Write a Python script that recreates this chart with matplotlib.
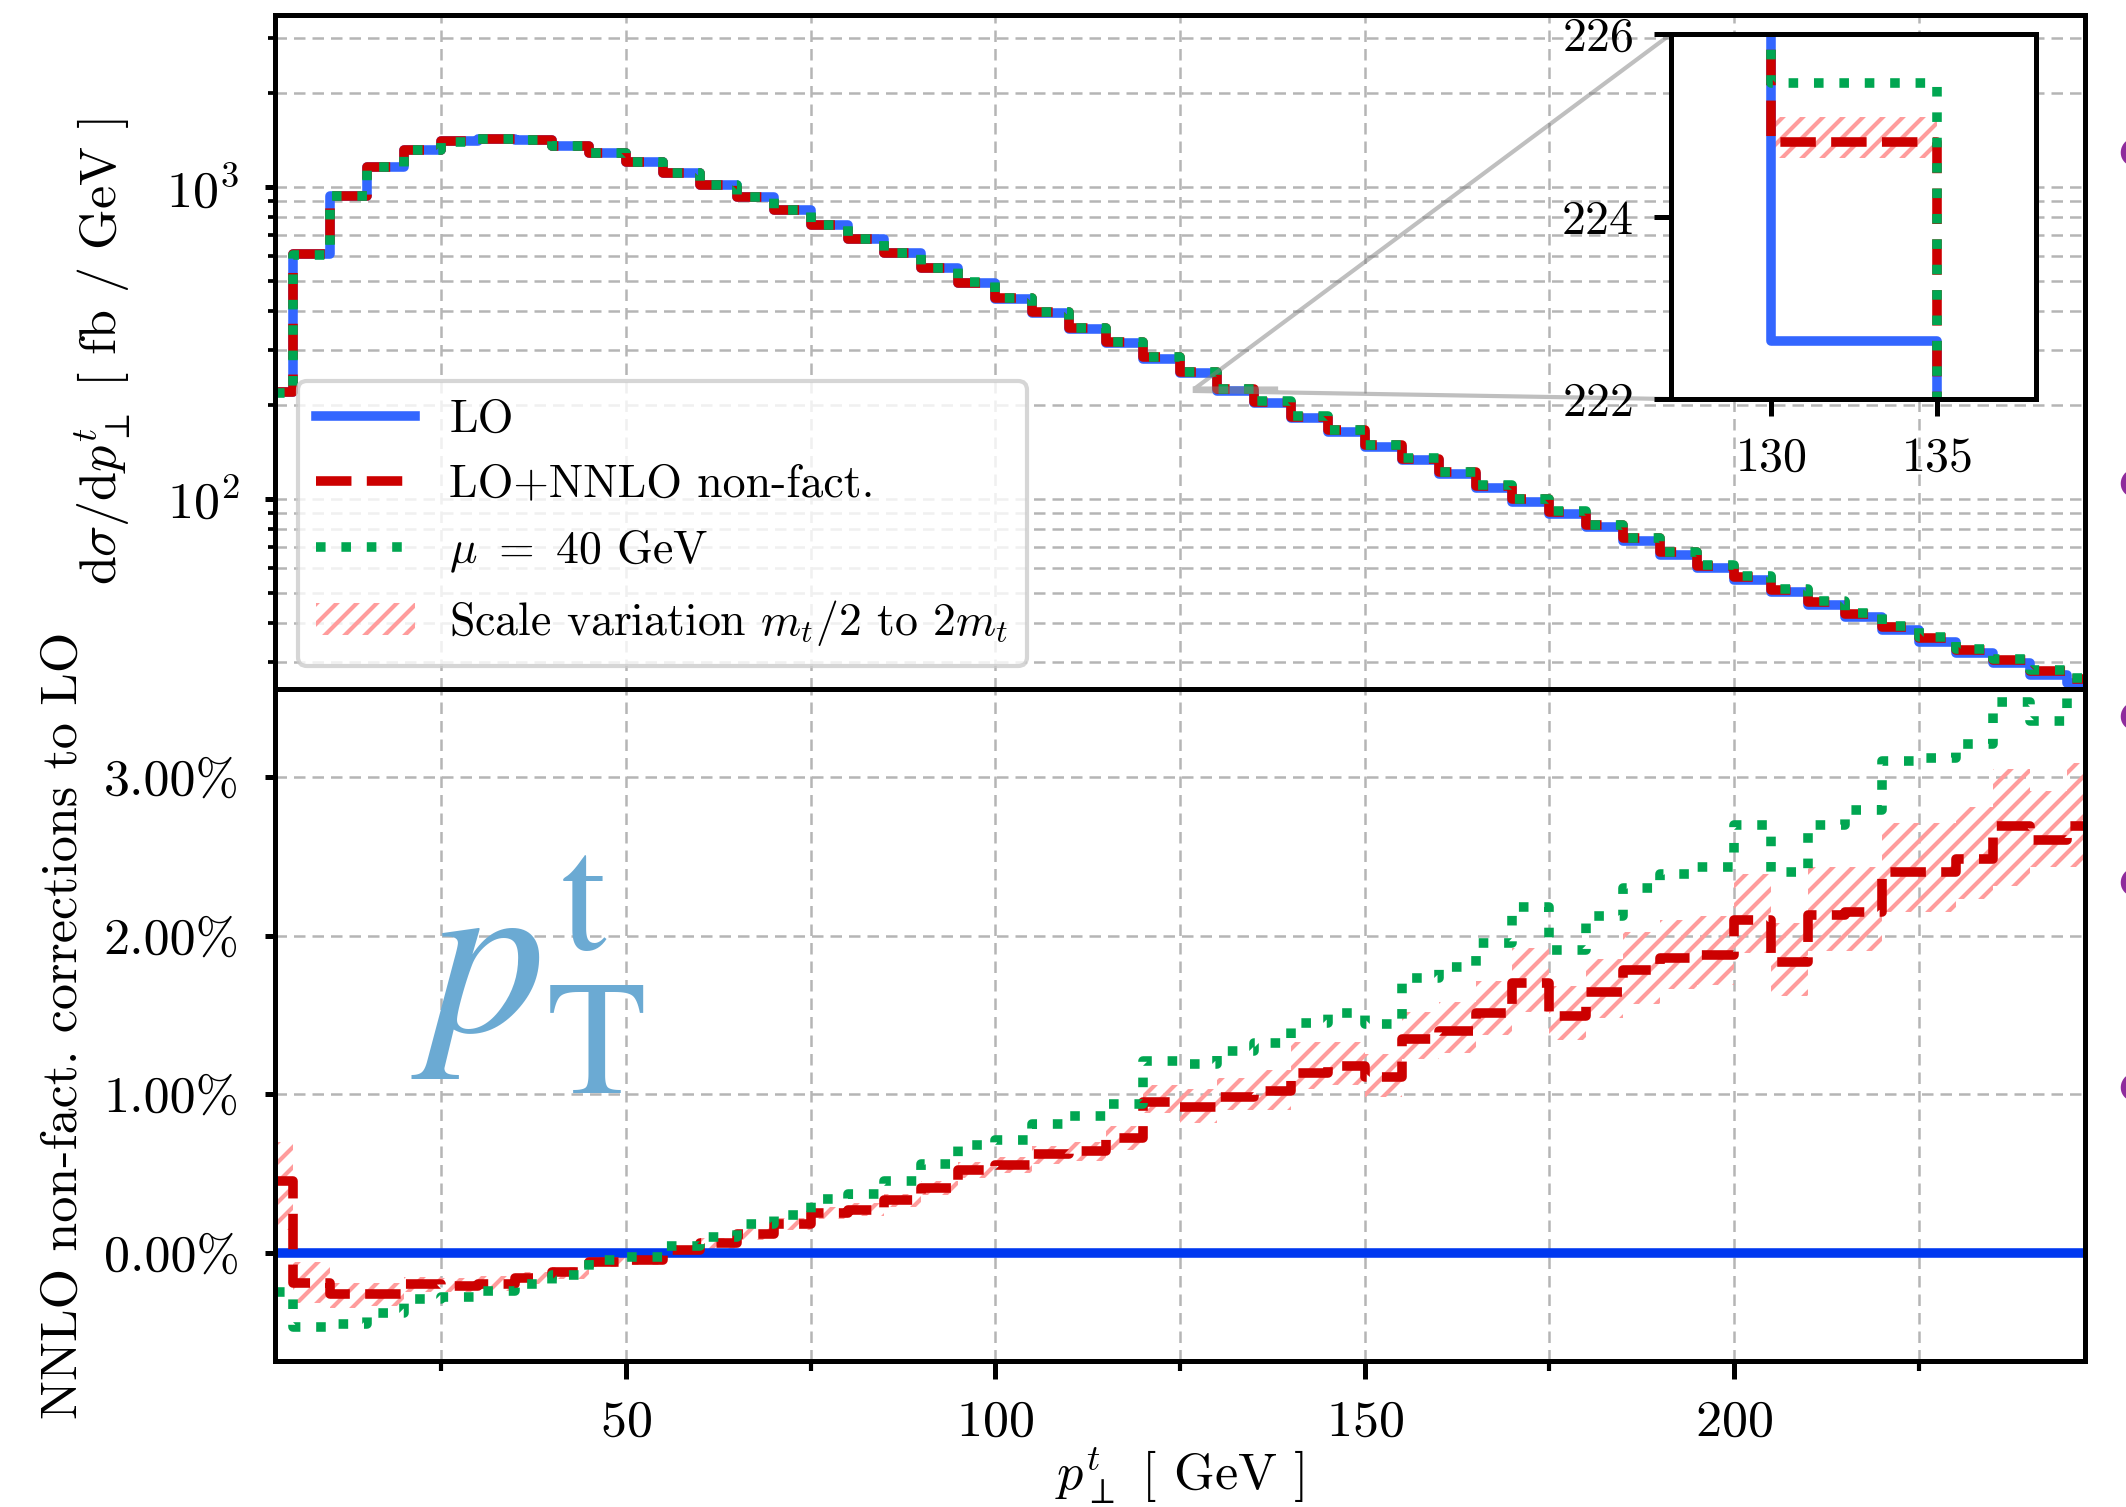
import numpy as np
import matplotlib
matplotlib.use('Agg')
import matplotlib.pyplot as plt
from matplotlib.ticker import PercentFormatter, MultipleLocator, FixedLocator

plt.rcParams['font.family'] = 'serif'
plt.rcParams['font.serif'] = ['cmr10']
plt.rcParams['mathtext.fontset'] = 'cm'
plt.rcParams['axes.formatter.use_mathtext'] = True
plt.rcParams['axes.unicode_minus'] = False
plt.rcParams['font.size'] = 12.5
plt.rcParams['axes.linewidth'] = 1.2
plt.rcParams['hatch.linewidth'] = 1.0

# bin centres, 5 GeV bins
pt_bins = np.arange(2.5, 250.0, 5.0)

# LO cross section [fb/GeV]
lo_xsec = [220, 610, 938, 1161, 1314, 1403, 1429, 1414, 1353, 1282,
           1200, 1111, 1015, 927, 844, 755, 680, 613, 549, 491,
           437, 394, 351, 316, 282, 253, 222.64, 203, 181.6, 164,
           147, 133, 120, 108.6, 98.0, 89.5, 81.1, 73.5, 66.2, 60.0,
           55.0, 50.2, 45.7, 41.8, 38.0, 34.9, 32.0, 29.7, 27.3, 25.7]

# relative corrections to LO [%]
nnlo_pct = [0.45, -0.19, -0.26, -0.26, -0.20, -0.21, -0.20, -0.16, -0.12, -0.06,
            -0.05, 0.015, 0.06, 0.12, 0.18, 0.25, 0.27, 0.33, 0.41, 0.52,
            0.55, 0.62, 0.64, 0.72, 0.95, 0.92, 0.98, 1.02, 1.13, 1.18,
            1.11, 1.35, 1.40, 1.51, 1.70, 1.49, 1.645, 1.78, 1.86, 1.88,
            2.10, 1.83, 2.13, 2.15, 2.40, 2.40, 2.48, 2.69, 2.60, 2.69]

mu40_pct = [-0.25, -0.47, -0.45, -0.38, -0.29, -0.28, -0.24, -0.20, -0.14, -0.05,
            -0.03, 0.04, 0.10, 0.18, 0.24, 0.34, 0.37, 0.45, 0.56, 0.68,
            0.71, 0.81, 0.86, 0.94, 1.21, 1.19, 1.27, 1.32, 1.45, 1.51,
            1.44, 1.735, 1.80, 1.95, 2.18, 1.91, 2.12, 2.30, 2.39, 2.435,
            2.70, 2.40, 2.70, 2.79, 3.10, 3.12, 3.21, 3.47, 3.35, 3.62]

scale_lo_pct = [0.14, -0.32, -0.35, -0.34, -0.25, -0.25, -0.24, -0.20, -0.165, -0.09,
                -0.08, -0.02, 0.02, 0.08, 0.14, 0.21, 0.23, 0.29, 0.36, 0.47,
                0.50, 0.56, 0.58, 0.65, 0.88, 0.82, 0.90, 0.90, 1.03, 1.06,
                0.98, 1.22, 1.26, 1.37, 1.515, 1.34, 1.48, 1.57, 1.66, 1.69,
                1.89, 1.62, 1.905, 1.905, 2.15, 2.15, 2.23, 2.31, 2.43, 2.43]

scale_hi_pct = [0.70, -0.06, -0.19, -0.19, -0.155, -0.16, -0.15, -0.12, -0.09, -0.03,
                -0.02, 0.05, 0.09, 0.16, 0.22, 0.29, 0.31, 0.37, 0.45, 0.57,
                0.60, 0.67, 0.70, 0.80, 1.06, 1.03, 1.10, 1.15, 1.33, 1.33,
                1.25, 1.515, 1.58, 1.71, 1.92, 1.68, 1.85, 2.02, 2.10, 2.12,
                2.39, 2.08, 2.43, 2.43, 2.71, 2.71, 2.81, 3.05, 2.91, 3.09]

BLUE = '#3366ff'
BLUE_DARK = '#0038f0'
RED = '#cc0000'
GREEN = '#00a651'
PINK = '#ff9c9c'
LW = 2.3
GRID = dict(ls=(0, (4.6, 2.8)), lw=0.6, color='#b5b5b5')

lo = np.array(lo_xsec)
nnlo = lo * (1 + np.array(nnlo_pct) / 100)
mu40 = lo * (1 + np.array(mu40_pct) / 100)
band_lo = lo * (1 + np.array(scale_lo_pct) / 100)
band_hi = lo * (1 + np.array(scale_hi_pct) / 100)

fig = plt.figure(figsize=(2126 / 300, 1507 / 300), dpi=300)
ax1 = fig.add_axes([0.12935, 0.54280, 0.85136, 0.44725])
ax2 = fig.add_axes([0.12935, 0.09688, 0.85136, 0.44592], sharex=ax1)


def draw_xsec(ax, label=True):
    ax.plot(pt_bins, lo, drawstyle='steps-mid', color=BLUE, lw=LW,
            label='LO' if label else None)
    ax.plot(pt_bins, nnlo, drawstyle='steps-mid', ls='--', color=RED, lw=LW,
            label='LO+NNLO non-fact.' if label else None)
    ax.plot(pt_bins, mu40, drawstyle='steps-mid', ls=':', color=GREEN, lw=LW,
            label=r'$\mu\ =\ 40$ GeV' if label else None)
    ax.fill_between(pt_bins, band_lo, band_hi, step='mid', facecolor='none',
                    edgecolor=PINK, hatch='/////', lw=0, zorder=1.5,
                    label=r'Scale variation $m_t/2$ to $2m_t$' if label else None)


# upper panel
draw_xsec(ax1)
ax1.set_yscale('log')
ax1.set_ylim(24.6, 3560)
ax1.set_xlim(2.5, 247.5)
ax1.grid(True, which='both', **GRID)
ax1.set_axisbelow(True)
ax1.tick_params(axis='x', which='both', length=0, labelbottom=False)
ax1.tick_params(axis='y', which='major', length=2.5, width=1.2, pad=6)
ax1.tick_params(axis='y', which='minor', length=1.8, width=0.9)
ax1.set_ylabel(r'$\mathrm{d}\sigma/\mathrm{d}p_\perp^t$ [ fb / GeV ]')
ax1.yaxis.set_label_coords(-0.0785, 0.5)
ax1.legend(loc='lower left', fontsize=11, handlelength=2.15, handletextpad=0.75)

# inset zoom
axins = fig.add_axes([0.786, 0.7352, 0.1717, 0.2422])
draw_xsec(axins, label=False)
axins.set_xlim(127, 138)
axins.set_ylim(222, 226)
axins.xaxis.set_major_locator(FixedLocator([130, 135]))
axins.yaxis.set_major_locator(FixedLocator([222, 224, 226]))
axins.tick_params(labelsize=11.5, length=4, width=1.2, pad=5)
ind = ax1.indicate_inset_zoom(axins)
conns = ind.connectors if hasattr(ind, 'connectors') else ind[1]
for c, vis in zip(conns, [True, True, False, False]):
    c.set_visible(vis)

# lower panel
ax2.plot(pt_bins, (lo / lo - 1) * 100, drawstyle='steps-mid', color=BLUE_DARK, lw=LW)
ax2.fill_between(pt_bins, scale_lo_pct, scale_hi_pct, step='mid', facecolor='none',
                 edgecolor=PINK, hatch='/////', lw=0, zorder=1.5)
ax2.plot(pt_bins, nnlo_pct, drawstyle='steps-mid', ls='--', color=RED, lw=LW)
ax2.plot(pt_bins, mu40_pct, drawstyle='steps-mid', ls=':', color=GREEN, lw=LW)
ax2.set_ylim(-0.684, 3.555)
ax2.yaxis.set_major_locator(FixedLocator([0, 1, 2, 3]))
ax2.yaxis.set_major_formatter(PercentFormatter(xmax=100, decimals=2))
ax2.xaxis.set_major_locator(MultipleLocator(50))
ax2.xaxis.set_minor_locator(MultipleLocator(25))
ax2.grid(True, which='both', axis='x', **GRID)
ax2.grid(True, which='major', axis='y', **GRID)
ax2.set_axisbelow(True)
ax2.tick_params(axis='x', which='major', length=4.4, width=1.2, pad=5)
ax2.tick_params(axis='x', which='minor', length=2.4, width=1.0)
ax2.tick_params(axis='y', which='major', length=2.5, width=1.2, pad=6)
ax2.set_ylabel('NNLO non-fact. corrections to LO')
ax2.yaxis.set_label_coords(-0.104, 0.5)
ax2.set_xlabel(r'$p_\perp^t$ [ GeV ]')
ax2.xaxis.set_label_coords(0.5, -0.125)

ax2.text(0.075, 0.49, r'$p_{\mathrm{T}}^{\mathrm{t}}$', transform=ax2.transAxes,
         fontsize=56, color='#6baad3', math_fontfamily='stix',
         ha='left', va='baseline')

# cut-off labels at the right border
for yf in [150, 481, 714, 880, 1085]:
    fig.text(0.9962, 1 - yf / 1507, 'o', color='#8e2c9c', fontsize=15,
             ha='left', va='center')

fig.savefig('out.png', dpi=300)
